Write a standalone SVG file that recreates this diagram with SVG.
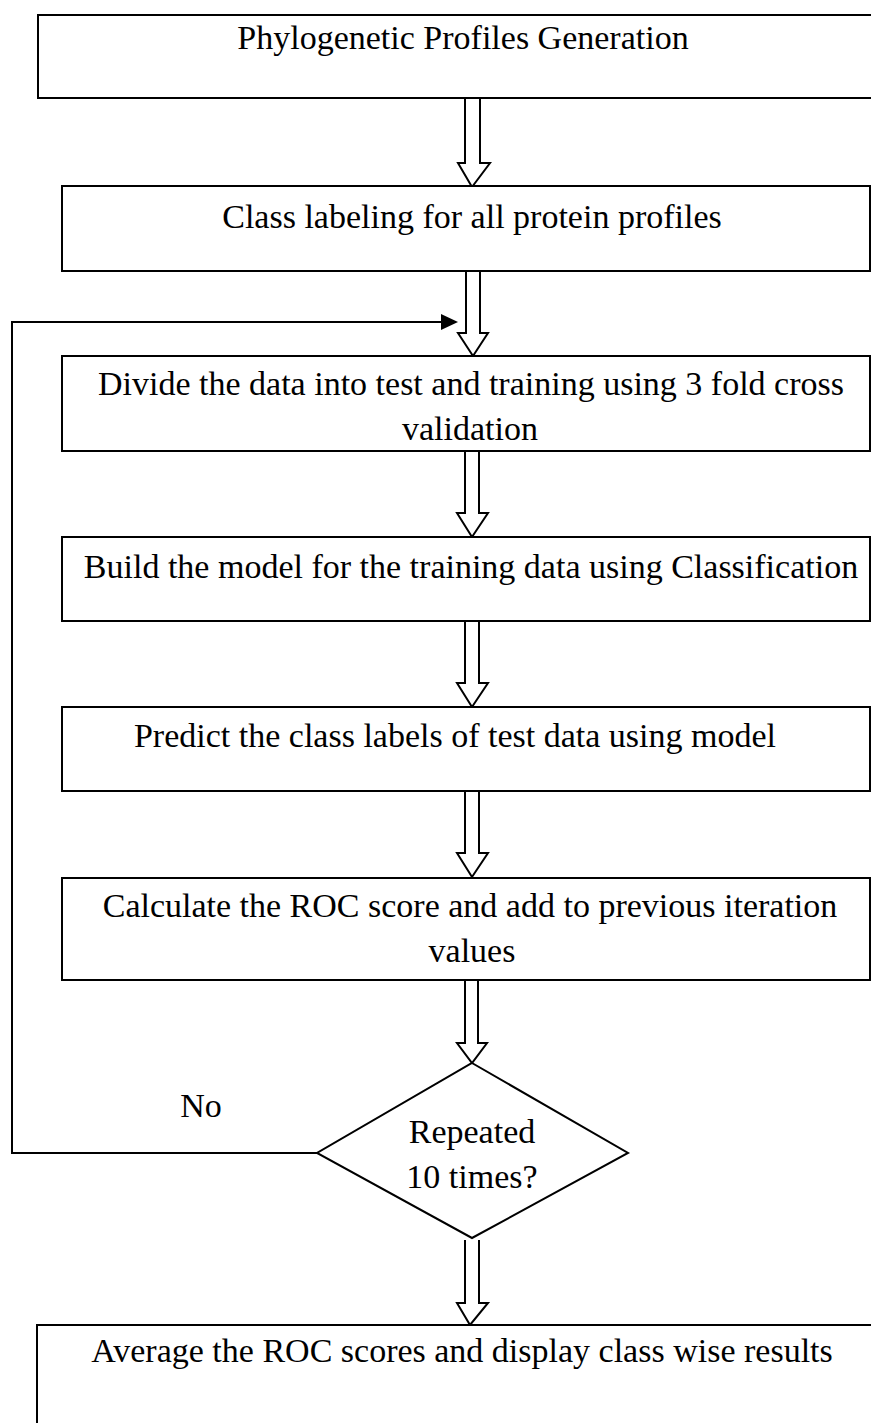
<svg xmlns="http://www.w3.org/2000/svg" width="871" height="1423" viewBox="0 0 871 1423">
<style>
.box{fill:#fff;stroke:#000;stroke-width:2}
.t{font-family:"Liberation Serif","Times New Roman",serif;font-size:34px;fill:#000;text-anchor:middle}
.blk{fill:#fff;stroke:#000;stroke-width:2;stroke-linejoin:miter}
.ln{fill:none;stroke:#000;stroke-width:2}
</style>
<rect width="871" height="1423" fill="#fff"/>
<g id="connectors">
<path class="blk" d="M465,98 V163 H458 L472,187 L490,163 H480 V98"/>
<path class="blk" d="M466,271 V333 H458 L473,356 L488,333 H480 V271"/>
<path class="blk" d="M465,451 V513 H457 L472,537 L488,513 H479 V451"/>
<path class="blk" d="M465,621 V683 H457 L472,707 L488,683 H479 V621"/>
<path class="blk" d="M465,791 V853 H457 L472,877 L488,853 H479 V791"/>
<path class="blk" d="M465,980 V1043 H457 L472,1063 L487,1043 H478 V980"/>
<path class="blk" d="M465,1240 V1303 H457 L470,1325 L488,1303 H479 V1240"/>
<path class="ln" d="M317,1153 H12 V322 H441"/>
<path d="M441,314 L458,322 L441,330 Z" fill="#000"/>
</g>
<g id="n1">
<rect class="box" x="38" y="15" width="850" height="83"/>
<text class="t" x="463" y="49">Phylogenetic Profiles Generation</text>
</g>
<g id="n2">
<rect class="box" x="62" y="186" width="808" height="85"/>
<text class="t" x="472" y="228">Class labeling for all protein profiles</text>
</g>
<g id="n3">
<rect class="box" x="62" y="356" width="808" height="95"/>
<text class="t" x="471" y="395">Divide the data into test and training using 3 fold cross</text>
<text class="t" x="470" y="440">validation</text>
</g>
<g id="n4">
<rect class="box" x="62" y="537" width="808" height="84"/>
<text class="t" x="471" y="578">Build the model for the training data using Classification</text>
</g>
<g id="n5">
<rect class="box" x="62" y="707" width="808" height="84"/>
<text class="t" x="455" y="747">Predict the class labels of test data using model</text>
</g>
<g id="n6">
<rect class="box" x="62" y="878" width="808" height="102"/>
<text class="t" x="470" y="917">Calculate the ROC score and add to previous iteration</text>
<text class="t" x="472" y="962">values</text>
</g>
<g id="n7">
<polygon class="box" points="472,1063 628,1153 472,1238 317,1153"/>
<text class="t" x="472" y="1143">Repeated</text>
<text class="t" x="472" y="1188">10 times?</text>
</g>
<text class="t" x="201" y="1117">No</text>
<g id="n8">
<rect class="box" x="37" y="1325" width="850" height="110"/>
<text class="t" x="462" y="1362">Average the ROC scores and display class wise results</text>
</g>
</svg>
